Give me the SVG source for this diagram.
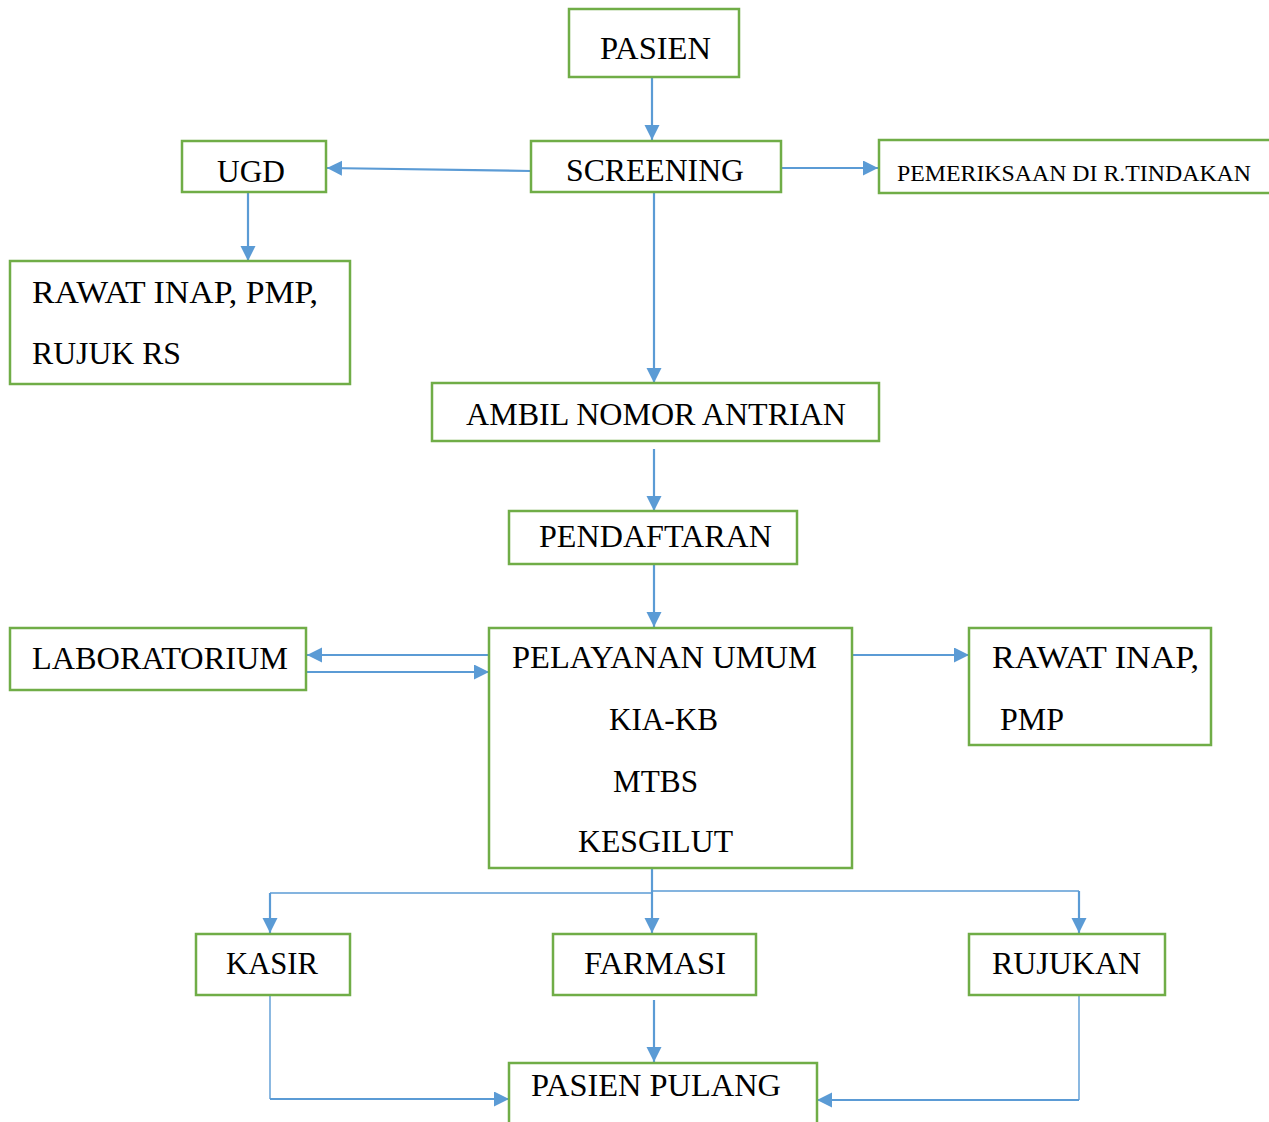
<svg xmlns="http://www.w3.org/2000/svg" width="1269" height="1122" viewBox="0 0 1269 1122">
<style>
.box{fill:#fff;stroke:#70AD47;stroke-width:2.5}
.t{font-family:"Liberation Serif","Times New Roman",serif;font-size:32px;fill:#000}
.s{font-size:24px}
.c{fill:none;stroke:#5B9BD5;stroke-width:2.2}
.c1{fill:none;stroke:#5B9BD5;stroke-width:1.4}
</style>
<defs>
<marker id="ah" markerUnits="userSpaceOnUse" markerWidth="16" markerHeight="16" refX="15" refY="7.5" orient="auto">
<path d="M0,0 L15,7.5 L0,15 z" fill="#5B9BD5"/>
</marker>
</defs>
<rect width="1269" height="1122" fill="#fff"/>
<g id="connectors">
<line class="c" x1="652" y1="77" x2="652" y2="140" marker-end="url(#ah)"/>
<line class="c" x1="531" y1="171" x2="327" y2="168" marker-end="url(#ah)"/>
<line class="c" x1="781" y1="168" x2="878" y2="168" marker-end="url(#ah)"/>
<line class="c" x1="248" y1="192" x2="248" y2="261" marker-end="url(#ah)"/>
<line class="c" x1="654" y1="192" x2="654" y2="383" marker-end="url(#ah)"/>
<line class="c" x1="654" y1="449" x2="654" y2="511" marker-end="url(#ah)"/>
<line class="c" x1="654" y1="564" x2="654" y2="627" marker-end="url(#ah)"/>
<line class="c" x1="489" y1="655" x2="307" y2="655" marker-end="url(#ah)"/>
<line class="c" x1="306" y1="672" x2="489" y2="672" marker-end="url(#ah)"/>
<line class="c" x1="852" y1="655" x2="969" y2="655" marker-end="url(#ah)"/>
<line class="c" x1="652" y1="868" x2="652" y2="933" marker-end="url(#ah)"/>
<polyline class="c1" points="652,893 270,893"/>
<line class="c" x1="270" y1="893" x2="270" y2="933" marker-end="url(#ah)"/>
<polyline class="c1" points="652,891 1079,891"/>
<line class="c" x1="1079" y1="891" x2="1079" y2="933" marker-end="url(#ah)"/>
<line class="c1" x1="270" y1="995" x2="270" y2="1099"/>
<line class="c" x1="270" y1="1099" x2="509" y2="1099" marker-end="url(#ah)"/>
<line class="c" x1="654" y1="1000" x2="654" y2="1062" marker-end="url(#ah)"/>
<line class="c1" x1="1079" y1="995" x2="1079" y2="1100"/>
<line class="c" x1="1079" y1="1100" x2="817" y2="1100" marker-end="url(#ah)"/>
</g>
<g id="pasien"><rect class="box" x="569" y="9" width="170" height="68"/><text class="t" x="600" y="59" textLength="111" lengthAdjust="spacingAndGlyphs">PASIEN</text></g>
<g id="screening"><rect class="box" x="531" y="141" width="250" height="51"/><text class="t" x="566" y="181" textLength="178" lengthAdjust="spacingAndGlyphs">SCREENING</text></g>
<g id="ugd"><rect class="box" x="182" y="141" width="144" height="51"/><text class="t" x="217" y="182" textLength="68" lengthAdjust="spacingAndGlyphs">UGD</text></g>
<g id="pemeriksaan"><rect class="box" x="879" y="140" width="400" height="53"/><text class="t s" x="897" y="181" textLength="354" lengthAdjust="spacingAndGlyphs">PEMERIKSAAN DI R.TINDAKAN</text></g>
<g id="rawat-inap-rujuk"><rect class="box" x="10" y="261" width="340" height="123"/><text class="t" x="32" y="303" textLength="286" lengthAdjust="spacingAndGlyphs">RAWAT INAP, PMP,</text><text class="t" x="32" y="364" textLength="149" lengthAdjust="spacingAndGlyphs">RUJUK RS</text></g>
<g id="ambil-nomor"><rect class="box" x="432" y="383" width="447" height="58"/><text class="t" x="466" y="425" textLength="380" lengthAdjust="spacingAndGlyphs">AMBIL NOMOR ANTRIAN</text></g>
<g id="pendaftaran"><rect class="box" x="509" y="511" width="288" height="53"/><text class="t" x="539" y="547" textLength="233" lengthAdjust="spacingAndGlyphs">PENDAFTARAN</text></g>
<g id="laboratorium"><rect class="box" x="10" y="628" width="296" height="62"/><text class="t" x="32" y="669" textLength="256" lengthAdjust="spacingAndGlyphs">LABORATORIUM</text></g>
<g id="pelayanan"><rect class="box" x="489" y="628" width="363" height="240"/>
<text class="t" x="512" y="668" textLength="305" lengthAdjust="spacingAndGlyphs">PELAYANAN UMUM</text>
<text class="t" x="609" y="730" textLength="109" lengthAdjust="spacingAndGlyphs">KIA-KB</text>
<text class="t" x="613" y="792" textLength="85" lengthAdjust="spacingAndGlyphs">MTBS</text>
<text class="t" x="578" y="852" textLength="155" lengthAdjust="spacingAndGlyphs">KESGILUT</text></g>
<g id="rawat-inap-pmp"><rect class="box" x="969" y="628" width="242" height="117"/><text class="t" x="992" y="668" textLength="207" lengthAdjust="spacingAndGlyphs">RAWAT INAP,</text><text class="t" x="1000" y="730" textLength="64" lengthAdjust="spacingAndGlyphs">PMP</text></g>
<g id="kasir"><rect class="box" x="196" y="934" width="154" height="61"/><text class="t" x="226" y="974" textLength="92" lengthAdjust="spacingAndGlyphs">KASIR</text></g>
<g id="farmasi"><rect class="box" x="553" y="934" width="203" height="61"/><text class="t" x="584" y="974" textLength="142" lengthAdjust="spacingAndGlyphs">FARMASI</text></g>
<g id="rujukan"><rect class="box" x="969" y="934" width="196" height="61"/><text class="t" x="992" y="974" textLength="149" lengthAdjust="spacingAndGlyphs">RUJUKAN</text></g>
<g id="pasien-pulang"><rect class="box" x="509" y="1063" width="308" height="80"/><text class="t" x="531" y="1096" textLength="250" lengthAdjust="spacingAndGlyphs">PASIEN PULANG</text></g>
</svg>
